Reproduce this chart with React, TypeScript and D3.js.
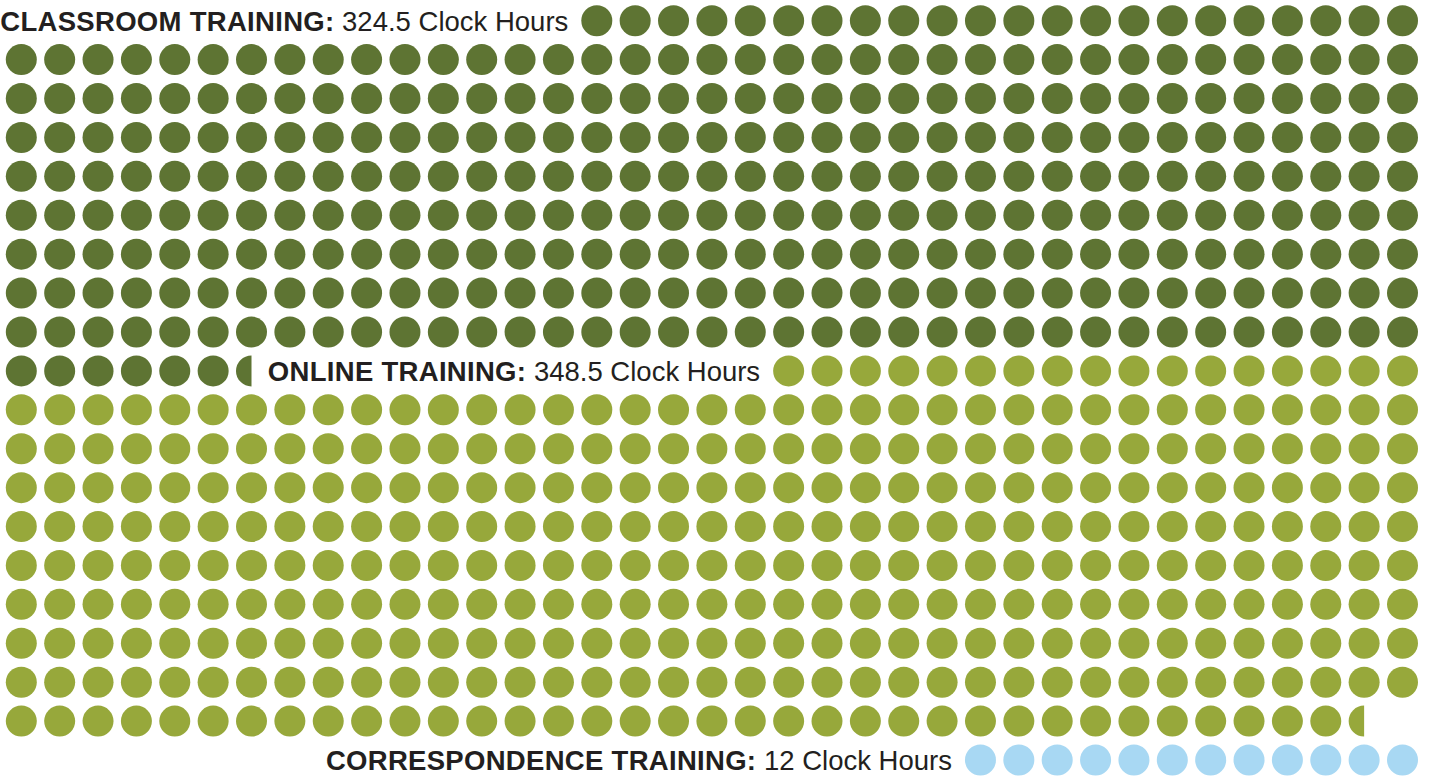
import React, { useEffect, useRef } from 'react';
import * as d3 from 'd3';

// Training types and their clock hours (1 dot = 1 hour)
const CATEGORIES = ['CLASSROOM TRAINING:', 'ONLINE TRAINING:', 'CORRESPONDENCE TRAINING:'];
const HOURS = [324.5, 348.5, 12];
const HOUR_LABELS = ['324.5 Clock Hours', '348.5 Clock Hours', '12 Clock Hours'];
// number of grid cells taken up by each label before its dots start
const LABEL_CELLS = [15, 13, 26];
const COLORS = ['#5e7433', '#97a83b', '#a8d8f3'];

const COLS = 37;
const ROWS = 20;

interface Cell {
  col: number;
  row: number;
  half: boolean;
  color: string;
}

const App: React.FC = () => {
  const svgRef = useRef<SVGSVGElement>(null);

  useEffect(() => {
    if (!svgRef.current) return;
    const svg = d3.select(svgRef.current);
    svg.selectAll('*').remove();

    const width = 1430;
    const height = 776;
    const r = 15.5;

    const x = d3.scaleLinear().domain([0, COLS - 1]).range([21.3, 1402.5]);
    const y = d3.scaleLinear().domain([0, ROWS - 1]).range([20.7, 760]);

    svg.attr('width', width).attr('height', height);

    // walk the grid: label cells first, then one cell per hour
    const cells: Cell[] = [];
    const labels: { col: number; row: number; i: number }[] = [];
    let cursor = 0;
    HOURS.forEach((h, i) => {
      cursor += LABEL_CELLS[i];
      labels.push({ col: cursor % COLS, row: Math.floor(cursor / COLS), i });
      const n = Math.ceil(h);
      for (let k = 0; k < n; k++) {
        const idx = cursor + k;
        cells.push({
          col: idx % COLS,
          row: Math.floor(idx / COLS),
          half: k === n - 1 && h % 1 !== 0,
          color: COLORS[i],
        });
      }
      cursor += n;
    });

    const g = svg.append('g');

    g.selectAll('circle')
      .data(cells.filter(d => !d.half))
      .enter().append('circle')
      .attr('cx', d => x(d.col))
      .attr('cy', d => y(d.row))
      .attr('r', r)
      .attr('fill', d => d.color);

    // half hour = left half of a dot
    const halfArc = d3.arc<any>()
      .innerRadius(0)
      .outerRadius(r)
      .startAngle(Math.PI)
      .endAngle(2 * Math.PI);

    g.selectAll('path.half')
      .data(cells.filter(d => d.half))
      .enter().append('path')
      .attr('class', 'half')
      .attr('transform', d => `translate(${x(d.col)},${y(d.row)})`)
      .attr('d', halfArc)
      .attr('fill', d => d.color);

    // Labels, right aligned against the first dot of each series
    const text = g.selectAll('text')
      .data(labels)
      .enter().append('text')
      .attr('x', d => x(d.col) - r - 13)
      .attr('y', d => y(d.row))
      .attr('dy', '0.36em')
      .attr('text-anchor', 'end')
      .style('font-family', '"Liberation Sans", Arial, Helvetica, sans-serif')
      .style('font-size', '27.5px')
      .style('fill', '#231f20');

    text.append('tspan')
      .style('font-weight', 'bold')
      .style('letter-spacing', '0.3px')
      .text(d => CATEGORIES[d.i]);

    text.append('tspan')
      .text(d => ' ' + HOUR_LABELS[d.i]);
  }, []);

  return (
    <svg
      ref={svgRef}
      viewBox="0 0 1430 776"
      style={{ position: 'absolute', left: 0, top: 0, background: '#ffffff' }}
    ></svg>
  );
};

export default App;
